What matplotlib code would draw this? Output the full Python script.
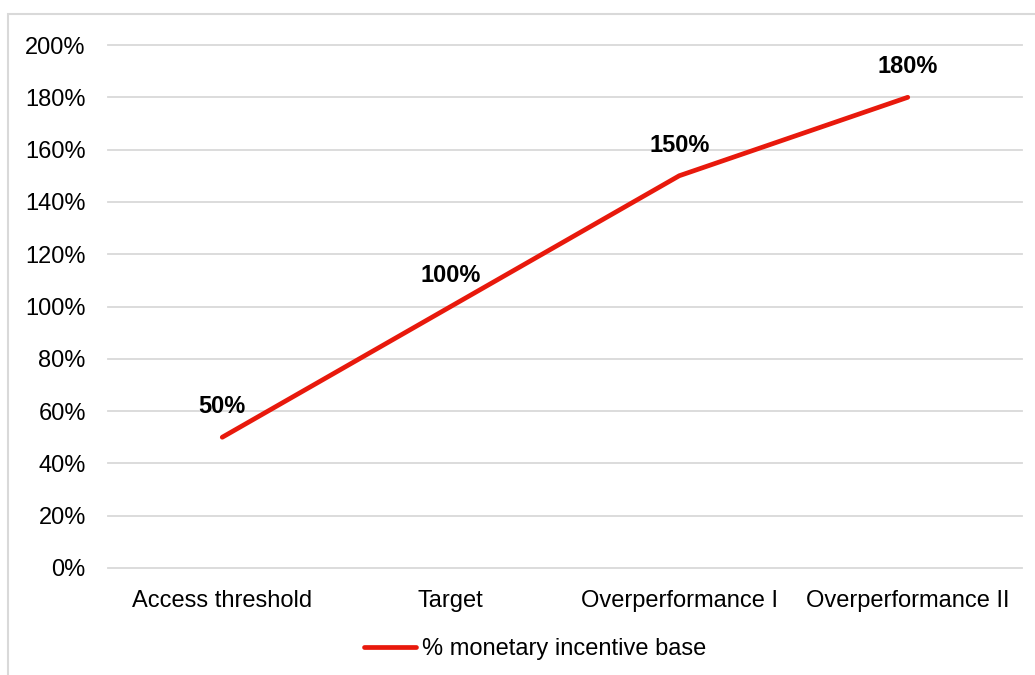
import matplotlib
matplotlib.use('Agg')
from matplotlib import pyplot as plt
from matplotlib import rc
from matplotlib.patches import Rectangle
from matplotlib.ticker import FuncFormatter

rc('font', family=['Liberation Sans', 'DejaVu Sans'])

categories = ['Access threshold', 'Target', 'Overperformance I', 'Overperformance II']
incentive = [50, 100, 150, 180]
series_name = '% monetary incentive base'

W, H = 1035, 675
fig = plt.figure(figsize=(W / 100, H / 100), dpi=100)

# light chart-area border (cut off at right and bottom like the original)
fig.patches.append(Rectangle((8 / W, -0.01), 1.02, 1 - 14 / H + 0.01,
                             transform=fig.transFigure, fill=False,
                             edgecolor='#D9D9D9', linewidth=1.5))

ax = fig.add_axes([108 / W, 1 - 568 / H, (1022 - 108) / W, (568 - 45) / H])

xs = list(range(len(categories)))
line, = ax.plot(xs, incentive, color='#E8190C', linewidth=3.4,
                solid_capstyle='round', label=series_name)

for x, v in zip(xs, incentive):
    ax.annotate(f'{v}%', (x, v), xytext=(0, 22), textcoords='offset points',
                ha='center', va='center', fontsize=17, fontweight='bold')

ax.set_xlim(-0.5, len(categories) - 0.5)
ax.set_ylim(0, 200)
ax.set_yticks(range(0, 201, 20))
ax.yaxis.set_major_formatter(FuncFormatter(lambda v, _: f'{v:.0f}%'))
ax.set_xticks(xs)
ax.set_xticklabels(categories)
ax.tick_params(axis='both', length=0, labelsize=17)
ax.tick_params(axis='y', pad=16)
ax.tick_params(axis='x', pad=15.5)

ax.grid(axis='y', color='#D9D9D9', linewidth=1.3)
for gl in ax.get_ygridlines():
    gl.set_clip_on(False)
ax.set_axisbelow(True)
for s in ax.spines.values():
    s.set_visible(False)

fig.legend(handles=[line], loc='center', bbox_to_anchor=(535 / W, 1 - 649 / H),
           frameon=False, fontsize=17, handlelength=2.2, handletextpad=0.25)

fig.savefig('out.png', dpi=100)
